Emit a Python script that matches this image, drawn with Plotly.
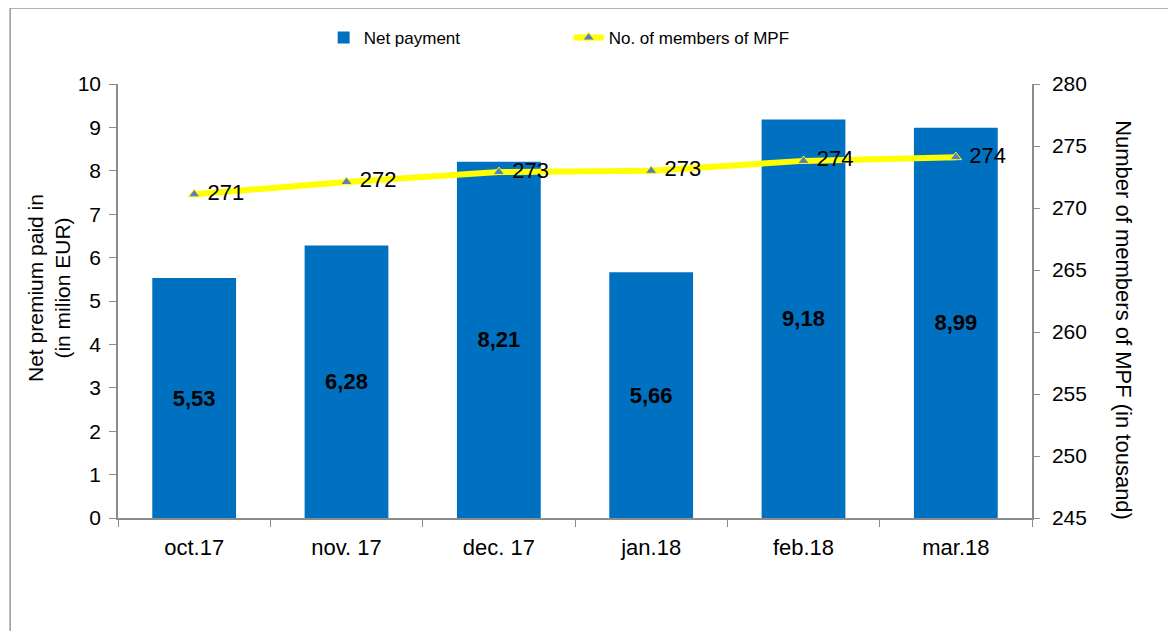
import plotly.graph_objects as go

months = ["oct.17", "nov. 17", "dec. 17", "jan.18", "feb.18", "mar.18"]
net_payment = [5.53, 6.28, 8.21, 5.66, 9.18, 8.99]
members = [271.1, 272.1, 272.9, 273.0, 273.8, 274.1]

FONT = "Liberation Sans, Arial, sans-serif"
AXIS_GREY = "#8c8c8c"

fig = go.Figure()

fig.add_trace(
    go.Bar(
        x=months,
        y=net_payment,
        name="Net payment",
        marker=dict(color="#0070C0", line=dict(width=0)),
        width=0.55,
        texttemplate="<b>%{y:.2f}</b>",
        textposition="inside",
        insidetextanchor="middle",
        textangle=0,
        textfont=dict(family=FONT, size=22, color="black"),
        yaxis="y",
    )
)

fig.add_trace(
    go.Scatter(
        x=months,
        y=members,
        name="No. of members of MPF",
        mode="lines+markers+text",
        line=dict(color="#FFFF00", width=6),
        marker=dict(symbol="triangle-up", size=10, color="#5B7FB8",
                    line=dict(color="#FFFF00", width=1)),
        texttemplate=" %{y:.0f}",
        textposition="middle right",
        textfont=dict(family=FONT, size=22, color="black"),
        yaxis="y2",
    )
)

fig.update_layout(
    width=1176,
    height=631,
    separators=",.",
    paper_bgcolor="white",
    plot_bgcolor="white",
    font=dict(family=FONT, size=20, color="black"),
    # page body adds ~8px offset, margins compensate
    margin=dict(l=110, r=152, t=76, b=121),
    showlegend=True,
    legend=dict(
        orientation="h",
        x=0.225,
        xanchor="left",
        y=1.106,
        yanchor="middle",
        font=dict(family=FONT, size=17),
        entrywidth=200,
        traceorder="normal",
        bgcolor="rgba(0,0,0,0)",
    ),
    xaxis=dict(
        showline=True,
        linecolor=AXIS_GREY,
        linewidth=1.5,
        ticks="outside",
        tickson="boundaries",
        ticklen=7,
        tickcolor=AXIS_GREY,
        tickfont=dict(size=22),
        ticklabelstandoff=9,
        showgrid=False,
    ),
    yaxis=dict(
        range=[0, 10],
        dtick=1,
        showline=True,
        linecolor=AXIS_GREY,
        linewidth=1.5,
        ticks="outside",
        ticklen=7,
        tickcolor=AXIS_GREY,
        tickfont=dict(size=21),
        ticklabelstandoff=4,
        showgrid=False,
        zeroline=False,
    ),
    yaxis2=dict(
        range=[245, 280],
        dtick=5,
        overlaying="y",
        side="right",
        showline=True,
        linecolor=AXIS_GREY,
        linewidth=1.5,
        ticks="outside",
        ticklen=6,
        tickcolor=AXIS_GREY,
        tickfont=dict(size=21),
        ticklabelstandoff=8,
        showgrid=False,
        zeroline=False,
    ),
)

# axis titles placed as annotations to match the source positions
fig.add_annotation(
    text="Net premium paid in<br>(in milion EUR)",
    xref="paper", yref="paper",
    x=-0.0755, y=0.53,
    xanchor="center", yanchor="middle",
    textangle=-90,
    showarrow=False,
    font=dict(family=FONT, size=21),
)
fig.add_annotation(
    text="Number of members of MPF (in tousand)",
    xref="paper", yref="paper",
    x=1.1, y=0.455,
    xanchor="center", yanchor="middle",
    textangle=90,
    showarrow=False,
    font=dict(family=FONT, size=22),
)

# outer chart frame
fig.add_shape(
    type="rect",
    xref="paper", yref="paper",
    x0=-0.118, x1=1.25, y0=-0.3, y1=1.175,
    line=dict(color="#9a9a9a", width=1.5),
    fillcolor="rgba(0,0,0,0)",
    layer="below",
)

fig.write_html("out.html")
